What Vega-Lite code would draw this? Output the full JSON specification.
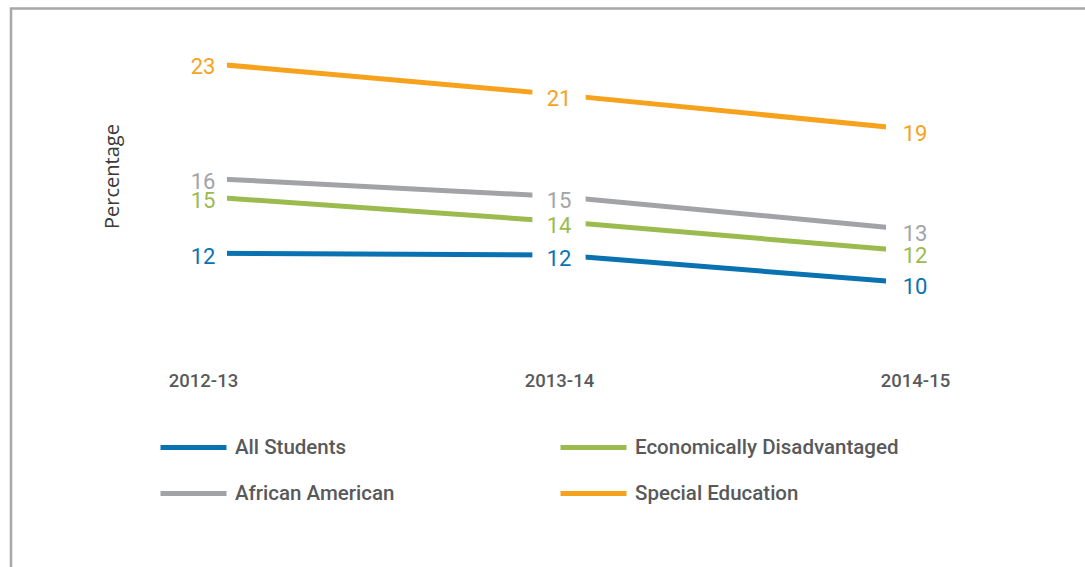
{
  "$schema": "https://vega.github.io/schema/vega-lite/v6.json",
  "width": 1100,
  "height": 580,
  "autosize": "none",
  "padding": {"left": 11, "top": 8.5, "right": -26, "bottom": -21.5},
  "background": "white",
  "config": {
    "view": {"stroke": "#a7a7a7", "strokeWidth": 2.5},
    "font": "Roboto"
  },
  "data": {
    "values": [
      {"year": "2012-13", "group": "All Students", "value": 11.6},
      {"year": "2013-14", "group": "All Students", "value": 11.5},
      {"year": "2014-15", "group": "All Students", "value": 9.8},
      {"year": "2012-13", "group": "African American", "value": 16.1},
      {"year": "2013-14", "group": "African American", "value": 15.0},
      {"year": "2014-15", "group": "African American", "value": 13.0},
      {"year": "2012-13", "group": "Economically Disadvantaged", "value": 15.0},
      {"year": "2013-14", "group": "Economically Disadvantaged", "value": 13.5},
      {"year": "2014-15", "group": "Economically Disadvantaged", "value": 11.7},
      {"year": "2012-13", "group": "Special Education", "value": 23.0},
      {"year": "2013-14", "group": "Special Education", "value": 21.1},
      {"year": "2014-15", "group": "Special Education", "value": 19.0}
    ]
  },
  "encoding": {
    "x": {
      "field": "year",
      "type": "ordinal",
      "scale": {"type": "point", "range": [192, 904], "padding": 0},
      "axis": {
        "title": null,
        "orient": "bottom",
        "offset": -208.5,
        "domain": false,
        "ticks": false,
        "tickSize": 0,
        "grid": false,
        "labelPadding": 0,
        "labelBaseline": "middle",
        "labelAngle": 0,
        "labelFont": "Roboto",
        "labelFontSize": 18.5,
        "labelFontWeight": 500,
        "labelColor": "#58595b"
      }
    },
    "y": {
      "field": "value",
      "type": "quantitative",
      "scale": {"domain": [0, 30], "range": [438.5, -62.5], "zero": false, "nice": false},
      "axis": {
        "title": "Percentage",
        "domain": false,
        "ticks": false,
        "labels": false,
        "grid": false,
        "titleX": 101,
        "titleY": 167.5,
        "titleAngle": 270,
        "titleAlign": "center",
        "titleBaseline": "middle",
        "titleFont": "Open Sans",
        "titleFontSize": 20,
        "titleFontWeight": "normal",
        "titleColor": "#3a3a3a"
      }
    }
  },
  "layer": [
    {
      "mark": {"type": "line", "strokeWidth": 5, "strokeCap": "butt"},
      "encoding": {
        "color": {
          "field": "group",
          "type": "nominal",
          "scale": {
            "domain": ["All Students", "African American", "Economically Disadvantaged", "Special Education"],
            "range": ["#0a72b0", "#a2a3a6", "#9bbb4f", "#f6a21d"]
          },
          "legend": {
            "title": null,
            "orient": "none",
            "legendX": 147,
            "legendY": 403.5,
            "columns": 2,
            "columnPadding": 155,
            "rowPadding": -1,
            "padding": 0,
            "symbolType": "stroke",
            "symbolSize": 4356,
            "symbolStrokeWidth": 5,
            "labelOffset": 6,
            "labelFont": "Roboto",
            "labelFontSize": 20.5,
            "labelFontWeight": 500,
            "labelColor": "#58595b",
            "labelLimit": 400
          }
        }
      }
    },
    {
      "mark": {"type": "point", "shape": "M-1,-0.3H1V0.3H-1Z", "filled": true, "fill": "white", "opacity": 1, "strokeWidth": 0},
      "encoding": {
        "size": {
          "field": "year",
          "type": "ordinal",
          "scale": {"domain": ["2012-13", "2013-14", "2014-15"], "range": [2304, 3364, 3600]},
          "legend": null
        }
      }
    },
    {
      "mark": {"type": "text", "font": "Roboto", "fontSize": 22, "baseline": "middle", "align": "center", "dy": 4},
      "encoding": {
        "text": {"field": "value", "type": "quantitative", "format": ".0f"},
        "color": {"field": "group", "type": "nominal"}
      }
    }
  ]
}
